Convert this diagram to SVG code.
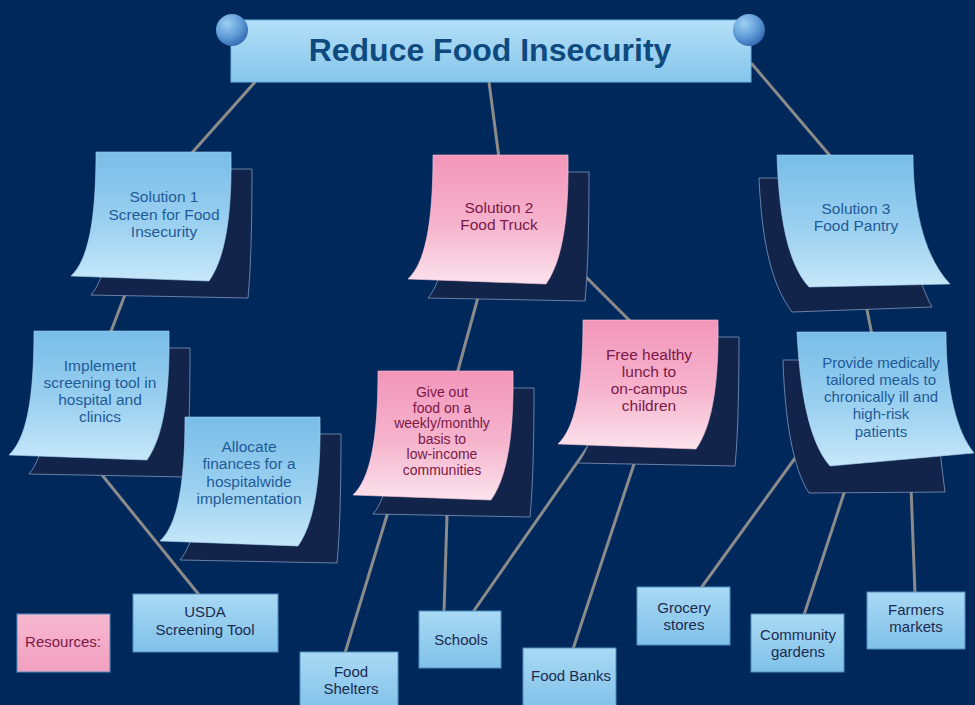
<svg xmlns="http://www.w3.org/2000/svg" xmlns:xlink="http://www.w3.org/1999/xlink" width="975" height="705" viewBox="0 0 975 705">
  <defs>
    <linearGradient id="gBlue" x1="0" y1="0" x2="0" y2="1">
      <stop offset="0" stop-color="#78bde8"/>
      <stop offset="0.55" stop-color="#9bd0f0"/>
      <stop offset="1" stop-color="#c6e7f9"/>
    </linearGradient>
    <linearGradient id="gPink" x1="0" y1="0" x2="0" y2="1">
      <stop offset="0" stop-color="#f396ba"/>
      <stop offset="0.55" stop-color="#f6b4cd"/>
      <stop offset="1" stop-color="#fbe3ec"/>
    </linearGradient>
    <linearGradient id="gBox" x1="0" y1="0" x2="0" y2="1">
      <stop offset="0" stop-color="#a9d9f4"/>
      <stop offset="1" stop-color="#80c1e9"/>
    </linearGradient>
    <linearGradient id="gBoxPink" x1="0" y1="0" x2="0" y2="1">
      <stop offset="0" stop-color="#f7b8d0"/>
      <stop offset="1" stop-color="#f2a0c0"/>
    </linearGradient>
    <linearGradient id="gTitle" x1="0" y1="0" x2="0" y2="1">
      <stop offset="0" stop-color="#b3dff7"/>
      <stop offset="1" stop-color="#86c6eb"/>
    </linearGradient>
    <radialGradient id="gBall" cx="0.35" cy="0.3" r="0.75">
      <stop offset="0" stop-color="#9ccff2"/>
      <stop offset="0.6" stop-color="#5d9ad6"/>
      <stop offset="1" stop-color="#3367b0"/>
    </radialGradient>
    <!-- sheet curling to the left at its foot, with its backing sheet -->
    <path id="sheetL" d="M0,0 L135,0 C136,60 130,105 113,129 L-25,124 C-8,108 0,70 0,0 Z"/>
    <path id="backL" d="M21,17 L156,17 C156,70 155,115 152,146 L-5,143 C8,128 18,90 21,17 Z"/>
    <style>
      .bg { fill: #01285a; }
      .link { stroke: #8b8b8b; stroke-width: 3; fill: none; stroke-linecap: round; }
      .back { fill: #13244b; stroke: #7f98be; stroke-width: 0.8; }
      .sheet { stroke: #a6d4f0; stroke-width: 0.6; }
      .sheetPink { stroke: #f8c8da; stroke-width: 0.6; }
      .box { fill: url(#gBox); stroke: #4f8fc4; stroke-width: 1; }
      .boxPink { fill: url(#gBoxPink); stroke: #4f8fc4; stroke-width: 1; }
      text { font-family: "Liberation Sans", Arial, sans-serif; text-anchor: middle; }
      .tb { fill: #1f5b98; font-size: 15.5px; }
      .tp { fill: #7b1848; font-size: 15.5px; }
      .tr { fill: #1b2b4f; font-size: 15px; }
      .title { fill: #0e4a80; font-size: 32px; font-weight: bold; }
    </style>
  </defs>

  <rect class="bg" x="0" y="0" width="975" height="705"/>

  <!-- connectors -->
  <g id="connectors">
    <line class="link" x1="255" y1="82" x2="190" y2="155"/>
    <line class="link" x1="489" y1="82" x2="499" y2="158"/>
    <line class="link" x1="752" y1="64" x2="832" y2="158"/>
    <line class="link" x1="126" y1="292" x2="110" y2="334"/>
    <line class="link" x1="98" y1="470" x2="200" y2="596"/>
    <line class="link" x1="480" y1="290" x2="457" y2="374"/>
    <line class="link" x1="573" y1="264" x2="632" y2="323"/>
    <line class="link" x1="388" y1="512" x2="345" y2="653"/>
    <line class="link" x1="447" y1="515" x2="444" y2="612"/>
    <line class="link" x1="590" y1="444" x2="473" y2="612"/>
    <line class="link" x1="636" y1="458" x2="573" y2="649"/>
    <line class="link" x1="866" y1="305" x2="872" y2="335"/>
    <line class="link" x1="798" y1="454" x2="701" y2="588"/>
    <line class="link" x1="846" y1="487" x2="804" y2="615"/>
    <line class="link" x1="911" y1="487" x2="915" y2="593"/>
  </g>

  <!-- title banner -->
  <g id="title">
    <rect x="231" y="20" width="520" height="62" fill="url(#gTitle)" stroke="#6fb3e0" stroke-width="1"/>
    <circle cx="232" cy="30" r="16" fill="url(#gBall)"/>
    <circle cx="749" cy="30" r="16" fill="url(#gBall)"/>
    <text class="title" x="490" y="61">Reduce Food Insecurity</text>
  </g>

  <!-- solution notes -->
  <g id="solution1" transform="translate(96,152)">
    <use xlink:href="#backL" href="#backL" class="back"/>
    <use xlink:href="#sheetL" href="#sheetL" class="sheet" fill="url(#gBlue)"/>
    <text class="tb"><tspan x="68" y="50">Solution 1</tspan><tspan x="68" y="67.5">Screen for Food</tspan><tspan x="68" y="85">Insecurity</tspan></text>
  </g>

  <g id="solution2" transform="translate(433,155)">
    <use xlink:href="#backL" href="#backL" class="back"/>
    <use xlink:href="#sheetL" href="#sheetL" class="sheetPink" fill="url(#gPink)"/>
    <text class="tp"><tspan x="66" y="58">Solution 2</tspan><tspan x="66" y="75">Food Truck</tspan></text>
  </g>

  <g id="solution3" transform="translate(777,155)">
    <path class="back" d="M-18,23 L125,23 C130,80 140,125 155,152 L15,157 C-5,130 -15,90 -18,23 Z"/>
    <path class="sheet" fill="url(#gBlue)" d="M0,0 L136,0 C136,60 150,105 173,129 L32,132 C10,108 2,60 0,0 Z"/>
    <text class="tb"><tspan x="79" y="59">Solution 3</tspan><tspan x="79" y="76">Food Pantry</tspan></text>
  </g>

  <!-- action notes -->
  <g id="implement" transform="translate(34,331)">
    <use xlink:href="#backL" href="#backL" class="back"/>
    <use xlink:href="#sheetL" href="#sheetL" class="sheet" fill="url(#gBlue)"/>
    <text class="tb"><tspan x="66" y="40">Implement</tspan><tspan x="66" y="57">screening tool in</tspan><tspan x="66" y="74">hospital and</tspan><tspan x="66" y="91">clinics</tspan></text>
  </g>

  <g id="allocate" transform="translate(185,417)">
    <use xlink:href="#backL" href="#backL" class="back"/>
    <use xlink:href="#sheetL" href="#sheetL" class="sheet" fill="url(#gBlue)"/>
    <text class="tb"><tspan x="64" y="35">Allocate</tspan><tspan x="64" y="52">finances for a</tspan><tspan x="64" y="70">hospitalwide</tspan><tspan x="64" y="87">implementation</tspan></text>
  </g>

  <g id="giveout" transform="translate(378,371)">
    <use xlink:href="#backL" href="#backL" class="back"/>
    <use xlink:href="#sheetL" href="#sheetL" class="sheetPink" fill="url(#gPink)"/>
    <text class="tp" style="font-size:14px"><tspan x="64" y="26">Give out</tspan><tspan x="64" y="41.5">food on a</tspan><tspan x="64" y="57">weekly/monthly</tspan><tspan x="64" y="72.5">basis to</tspan><tspan x="64" y="88">low-income</tspan><tspan x="64" y="103.5">communities</tspan></text>
  </g>

  <g id="freelunch" transform="translate(583,320)">
    <use xlink:href="#backL" href="#backL" class="back"/>
    <use xlink:href="#sheetL" href="#sheetL" class="sheetPink" fill="url(#gPink)"/>
    <text class="tp"><tspan x="66" y="40">Free healthy</tspan><tspan x="66" y="57">lunch to</tspan><tspan x="66" y="74">on-campus</tspan><tspan x="66" y="91">children</tspan></text>
  </g>

  <g id="provide" transform="translate(797,332)">
    <path class="back" d="M-14,28 L135,28 C138,80 144,128 148,160 L12,161 C-4,136 -12,90 -14,28 Z"/>
    <path class="sheet" fill="url(#gBlue)" d="M0,0 L149,0 C149,60 160,100 177,121 L33,134 C12,110 3,60 0,0 Z"/>
    <text class="tb" style="font-size:15px"><tspan x="84" y="36">Provide medically</tspan><tspan x="84" y="53">tailored meals to</tspan><tspan x="84" y="70">chronically ill and</tspan><tspan x="84" y="87">high-risk</tspan><tspan x="84" y="105">patients</tspan></text>
  </g>

  <!-- resources -->
  <g id="resources">
    <rect class="boxPink" x="17" y="614" width="93" height="58"/>
    <text class="tp" style="font-size:15px" x="63" y="647">Resources:</text>
  </g>

  <g id="usda">
    <rect class="box" x="133" y="594" width="145" height="58"/>
    <text class="tr"><tspan x="205" y="617">USDA</tspan><tspan x="205" y="635">Screening Tool</tspan></text>
  </g>

  <g id="foodshelters">
    <rect class="box" x="300" y="652" width="98" height="60"/>
    <text class="tr"><tspan x="351" y="677">Food</tspan><tspan x="351" y="694">Shelters</tspan></text>
  </g>

  <g id="schools">
    <rect class="box" x="419" y="611" width="82" height="57"/>
    <text class="tr" x="461" y="645">Schools</text>
  </g>

  <g id="foodbanks">
    <rect class="box" x="523" y="648" width="93" height="62"/>
    <text class="tr" x="571" y="681">Food Banks</text>
  </g>

  <g id="grocery">
    <rect class="box" x="637" y="587" width="93" height="58"/>
    <text class="tr"><tspan x="684" y="613">Grocery</tspan><tspan x="684" y="630">stores</tspan></text>
  </g>

  <g id="community">
    <rect class="box" x="751" y="614" width="93" height="58"/>
    <text class="tr"><tspan x="798" y="640">Community</tspan><tspan x="798" y="657">gardens</tspan></text>
  </g>

  <g id="farmers">
    <rect class="box" x="867" y="592" width="98" height="57"/>
    <text class="tr"><tspan x="916" y="615">Farmers</tspan><tspan x="916" y="632">markets</tspan></text>
  </g>
</svg>
